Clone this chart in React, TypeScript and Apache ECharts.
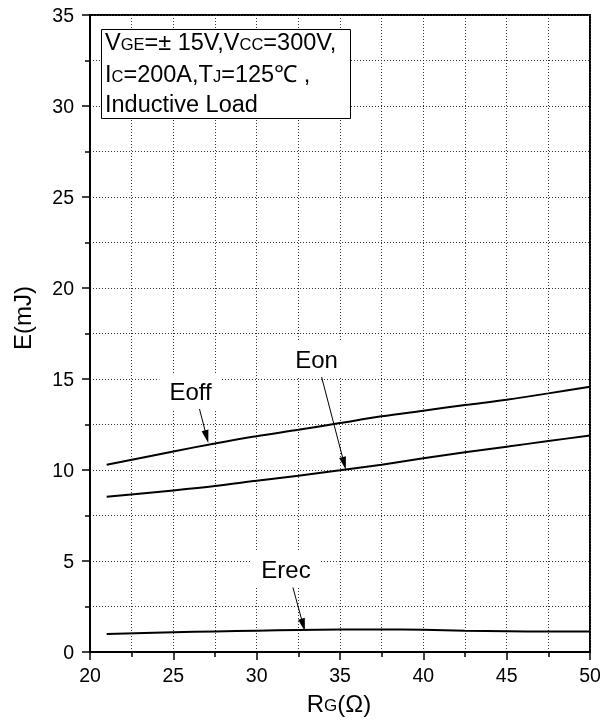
import React, { useEffect, useRef } from "react";
import * as echarts from "echarts";

const rgValues = [21, 25, 27.5, 30, 32.5, 35, 37.5, 40, 42.5, 45, 47.5, 50];
const eoffValues = [10.29, 11.02, 11.46, 11.86, 12.21, 12.58, 12.95, 13.26, 13.57, 13.86, 14.21, 14.58];
const eonValues = [8.53, 8.88, 9.12, 9.41, 9.69, 9.98, 10.29, 10.64, 10.97, 11.28, 11.59, 11.9];
const erecValues = [0.99, 1.08, 1.13, 1.17, 1.21, 1.23, 1.24, 1.22, 1.17, 1.14, 1.13, 1.13];

// arrow annotations: [start, arrow-head centre] in data units
const eoffArrow = [[26.53, 13.49], [27.0, 11.83]];
const eonArrow = [[33.85, 15.27], [35.25, 10.36]];
const erecArrow = [[32.13, 3.7], [32.79, 1.48]];

const FONT = "'Liberation Sans', Arial, sans-serif";

const toPairs = (xs: number[], ys: number[]) => xs.map((x, i) => [x, ys[i]]);

const arrowLine = (a: number[][]) => ({
  silent: true,
  symbol: ["none", "triangle"],
  symbolSize: [7, 13],
  label: { show: false },
  lineStyle: { color: "#000", width: 1, type: "solid" },
  itemStyle: { color: "#000" },
  emphasis: { disabled: true },
  data: [[{ coord: a[0] }, { coord: a[1] }]],
});

const rich = (big: number, small: number) => ({
  b: { fontSize: big, fontFamily: FONT, color: "#000" },
  s: {
    fontSize: small,
    fontFamily: FONT,
    color: "#000",
    padding: [0.693 * (big - small), 0, 0, 0],
  },
});

export default function App() {
  const ref = useRef<HTMLDivElement>(null);
  useEffect(() => {
    if (!ref.current) return;
    const chart = echarts.init(ref.current, undefined, { renderer: "svg" });
    const gridLine = { show: true, lineStyle: { color: "#333", width: 1, type: [1, 2] } };
    const series = (name: string, ys: number[], arrow: number[][]) => ({
      name,
      type: "line",
      data: toPairs(rgValues, ys),
      smooth: 0.3,
      showSymbol: false,
      symbol: "none",
      lineStyle: { color: "#000", width: 2 },
      itemStyle: { color: "#000" },
      z: 5,
      markLine: arrowLine(arrow),
    });
    const boxRich = rich(23.5, 16.5);
    const labelText = (text: string, x: number, y: number) => ({
      type: "text",
      x,
      y,
      z: 100,
      style: {
        text,
        x: 0,
        y: 0,
        fontSize: 24,
        fontFamily: FONT,
        fill: "#000",
        align: "center",
        verticalAlign: "middle",
        backgroundColor: "#fff",
        padding: [6, 10],
      },
    });
    chart.setOption({
      animation: false,
      textStyle: { fontFamily: FONT },
      grid: {
        left: 90,
        right: 21,
        top: 15,
        bottom: 70,
        show: true,
        borderColor: "#000",
        borderWidth: 2,
        backgroundColor: "transparent",
      },
      xAxis: {
        type: "value",
        min: 20,
        max: 50,
        interval: 5,
        axisLine: { show: true, lineStyle: { color: "#000", width: 2 } },
        axisTick: { show: true, length: 8, lineStyle: { color: "#000", width: 1.5 } },
        minorTick: { show: true, splitNumber: 2, length: 5, lineStyle: { color: "#000", width: 1.5 } },
        splitLine: gridLine,
        minorSplitLine: gridLine,
        axisLabel: { fontSize: 19.5, color: "#000", margin: 13, fontFamily: FONT },
      },
      yAxis: {
        type: "value",
        min: 0,
        max: 35,
        interval: 5,
        axisLine: { show: true, lineStyle: { color: "#000", width: 2 } },
        axisTick: { show: true, length: 8, lineStyle: { color: "#000", width: 1.5 } },
        minorTick: { show: true, splitNumber: 2, length: 5, lineStyle: { color: "#000", width: 1.5 } },
        splitLine: gridLine,
        minorSplitLine: gridLine,
        axisLabel: { fontSize: 19.5, color: "#000", margin: 16, fontFamily: FONT },
      },
      series: [
        series("Eoff", eoffValues, eoffArrow),
        series("Eon", eonValues, eonArrow),
        series("Erec", erecValues, erecArrow),
      ],
      graphic: [
        {
          type: "rect",
          z: 100,
          shape: { x: 101.5, y: 29.5, width: 249, height: 89 },
          style: { fill: "#fff", stroke: "#000", lineWidth: 1 },
        },
        {
          type: "text",
          z: 101,
          x: 105,
          y: 42,
          style: {
            text: "{b|V}{s|GE}{b|=± 15V,V}{s|CC}{b|=300V,}",
            rich: boxRich,
            verticalAlign: "middle",
            align: "left",
          },
        },
        {
          type: "text",
          z: 101,
          x: 105,
          y: 73.5,
          style: {
            text: "{b|I}{s|C}{b|=200A,T}{s|J}{b|=125℃ ,}",
            rich: boxRich,
            verticalAlign: "middle",
            align: "left",
          },
        },
        {
          type: "text",
          z: 101,
          x: 105,
          y: 103.5,
          style: {
            text: "{b|Inductive Load}",
            rich: boxRich,
            verticalAlign: "middle",
            align: "left",
          },
        },
        labelText("Eoff", 190.5, 391),
        labelText("Eon", 316.5, 359),
        labelText("Erec", 286, 569.5),
        {
          type: "text",
          z: 101,
          x: 339,
          y: 703,
          style: {
            text: "{b|R}{s|G}{b|(Ω)}",
            rich: rich(24, 17),
            align: "center",
            verticalAlign: "middle",
          },
        },
        {
          type: "text",
          z: 101,
          x: 22,
          y: 318,
          rotation: Math.PI / 2,
          style: {
            text: "E(mJ)",
            fontSize: 24,
            fontFamily: FONT,
            fill: "#000",
            align: "center",
            verticalAlign: "middle",
          },
        },
      ],
    });
    return () => chart.dispose();
  }, []);
  return <div ref={ref} style={{ position: "fixed", left: 0, top: 0, width: 611, height: 722 }} />;
}
